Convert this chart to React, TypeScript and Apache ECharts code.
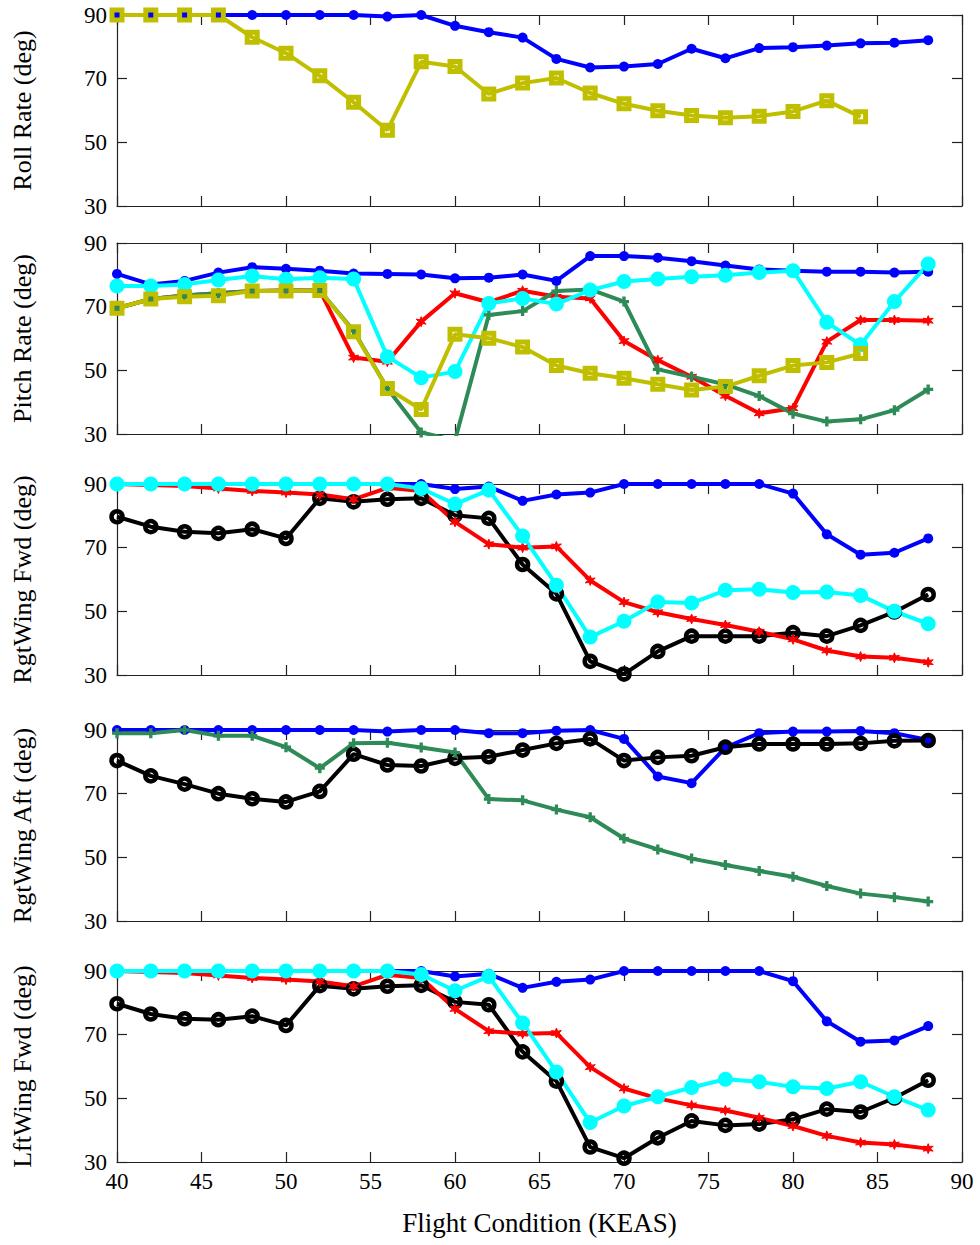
import React, { useEffect, useRef } from "react";
import * as echarts from "echarts";

const KEAS = [40, 42, 44, 46, 48, 50, 52, 54, 56, 58, 60, 62, 64, 66, 68, 70, 72, 74, 76, 78, 80, 82, 84, 86, 88];
const KEAS_TO84 = [40, 42, 44, 46, 48, 50, 52, 54, 56, 58, 60, 62, 64, 66, 68, 70, 72, 74, 76, 78, 80, 82, 84];

const Y_TICKS = [30, 50, 70, 90];

const rollBlue = [90, 90, 90, 90, 90, 90, 90, 90, 89.5, 90, 86.6, 84.6, 82.9, 76.2, 73.5, 73.8, 74.6, 79.4, 76.4, 79.6, 79.9, 80.4, 81.1, 81.3, 82.1];
const rollYellow = [90, 90, 90, 90, 83.0, 78.0, 70.9, 62.6, 53.8, 75.3, 73.8, 65.2, 68.6, 70.2, 65.5, 62.1, 59.9, 58.4, 57.7, 58.2, 59.7, 63.1, 58.0];

const pitchBlue = [80.3, 77.0, 78.1, 80.7, 82.4, 81.9, 81.3, 80.4, 80.3, 80.1, 78.9, 79.1, 80.1, 78.1, 85.9, 85.9, 85.4, 84.3, 82.9, 81.7, 81.3, 81.0, 81.0, 80.7, 81.0];
const pitchCyan = [76.5, 76.5, 77.0, 78.4, 79.6, 78.6, 79.1, 78.7, 54.3, 47.7, 49.6, 71.0, 72.6, 70.8, 75.2, 77.9, 78.7, 79.4, 79.9, 80.7, 81.3, 65.1, 58.0, 71.6, 83.4];
const pitchRed = [69.5, 72.4, 73.5, 74.2, 74.9, 75.1, 75.1, 54.0, 52.7, 65.3, 74.2, 71.4, 75.0, 73.1, 72.6, 59.2, 53.2, 48.0, 42.0, 36.5, 38.1, 59.0, 65.8, 65.8, 65.6];
const pitchGreen = [69.5, 72.4, 73.5, 74.2, 74.9, 75.1, 75.1, 62.4, 44.3, 30.5, 28.0, 67.4, 68.6, 74.9, 75.4, 71.6, 50.3, 48.0, 45.6, 41.9, 36.4, 33.9, 34.6, 37.5, 44.0];
const pitchYellow = [69.5, 72.4, 73.1, 73.4, 74.9, 74.9, 75.1, 62.1, 44.3, 37.7, 61.3, 60.1, 57.3, 51.5, 49.1, 47.5, 45.6, 43.8, 44.9, 48.3, 51.5, 52.5, 55.3];

const rwfBlue = [90, 90, 90, 90, 90, 90, 90, 90, 90, 90, 88.4, 89.2, 84.7, 86.7, 87.3, 90, 90, 90, 90, 90, 87.0, 74.2, 67.8, 68.4, 72.9];
const rwfCyan = [90, 90, 90, 90, 90, 90, 90, 90, 90, 88.6, 83.7, 88.1, 73.7, 58.2, 41.9, 46.9, 52.9, 52.6, 56.6, 56.9, 55.9, 56.1, 55.0, 50.0, 46.1];
const rwfRed = [90, 89.7, 89.4, 88.6, 87.8, 87.3, 86.7, 85.2, 88.8, 87.8, 78.1, 71.1, 70.0, 70.4, 59.7, 52.9, 49.7, 47.6, 45.7, 43.6, 41.2, 37.7, 35.8, 35.4, 34.0];
const rwfBlack = [79.7, 76.6, 75.0, 74.5, 75.8, 72.9, 85.5, 84.4, 85.2, 85.5, 80.2, 79.2, 64.7, 55.5, 34.3, 30.3, 37.4, 42.2, 42.2, 42.2, 43.3, 42.2, 45.6, 49.8, 55.3];

const rwaBlue = [90, 90, 90, 90, 90, 90, 90, 90, 89.5, 90, 90, 89, 89, 89.8, 90, 87.2, 75.4, 73.3, 84.5, 89, 89.5, 89.5, 89.7, 89, 86.9];
const rwaBlack = [80.4, 75.6, 73.0, 70.0, 68.4, 67.4, 70.7, 82.4, 79.0, 78.7, 81.1, 81.6, 83.7, 85.8, 87.2, 80.4, 81.4, 81.9, 84.6, 85.6, 85.6, 85.6, 85.8, 86.6, 86.7];
const rwaGreen = [89, 89, 90, 88.2, 88.2, 84.6, 78.0, 85.8, 86.0, 84.5, 82.9, 68.3, 67.9, 65.0, 62.6, 55.9, 52.5, 49.6, 47.6, 45.7, 43.9, 41.0, 38.6, 37.5, 36.1];

const lwfBlue = [90, 90, 90, 90, 90, 90, 90, 90, 90, 90, 88.3, 89.1, 84.7, 86.6, 87.3, 90, 90, 90, 90, 90, 86.8, 74.2, 67.8, 68.2, 72.7];
const lwfCyan = [90, 90, 90, 90, 90, 90, 90, 90, 90, 88.9, 83.8, 88.3, 73.7, 58.3, 42.4, 47.6, 50.5, 53.4, 56.0, 55.2, 53.6, 53.1, 55.2, 50.5, 46.3];
const lwfRed = [90, 89.7, 89.4, 88.6, 87.8, 87.3, 86.7, 85.2, 88.8, 87.8, 78.1, 71.1, 70.3, 70.5, 59.8, 53.1, 50.0, 47.8, 46.2, 43.9, 41.3, 38.2, 36.1, 35.5, 34.2];
const lwfBlack = [79.7, 76.5, 75.0, 74.7, 75.8, 72.9, 85.4, 84.4, 85.2, 85.5, 80.3, 79.4, 64.6, 55.4, 34.7, 31.2, 37.6, 42.9, 41.5, 41.9, 43.4, 46.6, 45.7, 50.1, 55.7];

const PANEL_NAMES = ["Roll Rate (deg)", "Pitch Rate (deg)", "RgtWing Fwd (deg)", "RgtWing Aft (deg)", "LftWing Fwd (deg)"];
const X_NAME = "Flight Condition (KEAS)";

const FONT = "'Liberation Serif', 'Times New Roman', serif";
const BLUE = "#0000FF";
const CYAN = "#00FFFF";
const RED = "#FF0000";
const GREEN = "#2E8B57";
const YELLOW = "#BFBF00";
const BLACK = "#000000";

const STAR = "path://M0,-10 L2.2,-3.8 L8.66,-5 L4.4,0 L8.66,5 L2.2,3.8 L0,10 L-2.2,3.8 L-8.66,5 L-4.4,0 L-8.66,-5 L-2.2,-3.8 Z";
const PLUS = "path://M-2,-6 L2,-6 L2,-2 L6,-2 L6,2 L2,2 L2,6 L-2,6 L-2,2 L-6,2 L-6,-2 L-2,-2 Z";

type Style = "blue" | "cyan" | "red" | "green" | "yellow" | "black";

function makeSeries(panel: number, xs: number[], ys: number[], style: Style) {
  const base: any = {
    type: "line",
    xAxisIndex: panel * 2,
    yAxisIndex: panel * 2,
    data: xs.map((x, i) => [x, ys[i]]),
    clip: true,
    silent: true,
    z: 2,
  };
  const lw = 4;
  switch (style) {
    case "blue":
      return { ...base, symbol: "circle", symbolSize: 10, lineStyle: { color: BLUE, width: lw }, itemStyle: { color: BLUE } };
    case "cyan":
      return { ...base, symbol: "circle", symbolSize: 15, lineStyle: { color: CYAN, width: lw }, itemStyle: { color: CYAN } };
    case "red":
      return { ...base, symbol: STAR, symbolSize: 10, lineStyle: { color: RED, width: lw }, itemStyle: { color: RED, borderColor: RED, borderWidth: 1 } };
    case "green":
      return { ...base, symbol: PLUS, symbolSize: 10, lineStyle: { color: GREEN, width: lw }, itemStyle: { color: GREEN } };
    case "yellow":
      return { ...base, symbol: "rect", symbolSize: 10, lineStyle: { color: YELLOW, width: lw }, itemStyle: { color: "rgba(0,0,0,0)", borderColor: YELLOW, borderWidth: 5 } };
    case "black":
      return { ...base, symbol: "circle", symbolSize: 11, lineStyle: { color: BLACK, width: lw }, itemStyle: { color: "rgba(0,0,0,0)", borderColor: BLACK, borderWidth: 4.5 } };
  }
}

export default function App() {
  const ref = useRef<HTMLDivElement>(null);

  useEffect(() => {
    document.body.style.margin = "0";
    if (!ref.current) return;
    const chart = echarts.init(ref.current, undefined, { renderer: "svg" });

    const tops = [15, 243, 484, 730, 971];
    const height = 191;
    const grids = tops.map((t) => ({ left: 117, right: 18, top: t, height }));

    const axisLine = { show: true, lineStyle: { color: "#222", width: 1.2 } };
    const tick = { show: true, inside: true, length: 10, lineStyle: { color: "#222", width: 1.2 } };

    const xAxes: any[] = [];
    const yAxes: any[] = [];
    tops.forEach((_, i) => {
      const last = i === tops.length - 1;
      xAxes.push({
        type: "value", gridIndex: i, position: "bottom", min: 40, max: 90, interval: 5,
        axisLine, axisTick: tick, splitLine: { show: false },
        axisLabel: { show: last, color: "#000", fontFamily: FONT, fontSize: 23, margin: 8 },
        name: last ? X_NAME : "", nameLocation: "middle", nameGap: 47,
        nameTextStyle: { color: "#000", fontFamily: FONT, fontSize: 27 },
      });
      xAxes.push({
        type: "value", gridIndex: i, position: "top", min: 40, max: 90, interval: 5,
        axisLine, axisTick: tick, splitLine: { show: false }, axisLabel: { show: false },
      });
      yAxes.push({
        type: "value", gridIndex: i, position: "left", min: 30, max: 90,
        axisLine, axisTick: { ...tick, customValues: Y_TICKS }, splitLine: { show: false },
        axisLabel: { color: "#000", fontFamily: FONT, fontSize: 23, margin: 10, customValues: Y_TICKS },
        name: PANEL_NAMES[i], nameLocation: "middle", nameGap: 82, nameRotate: 90,
        nameTextStyle: { color: "#000", fontFamily: FONT, fontSize: 26 },
      });
      yAxes.push({
        type: "value", gridIndex: i, position: "right", min: 30, max: 90,
        axisLine, axisTick: { ...tick, customValues: Y_TICKS }, splitLine: { show: false },
        axisLabel: { show: false, customValues: Y_TICKS },
      });
    });

    const series: any[] = [
      makeSeries(0, KEAS, rollBlue, "blue"),
      makeSeries(0, KEAS_TO84, rollYellow, "yellow"),

      makeSeries(1, KEAS, pitchBlue, "blue"),
      makeSeries(1, KEAS, pitchRed, "red"),
      makeSeries(1, KEAS, pitchGreen, "green"),
      makeSeries(1, KEAS, pitchCyan, "cyan"),
      makeSeries(1, KEAS_TO84, pitchYellow, "yellow"),

      makeSeries(2, KEAS, rwfBlack, "black"),
      makeSeries(2, KEAS, rwfBlue, "blue"),
      makeSeries(2, KEAS, rwfRed, "red"),
      makeSeries(2, KEAS, rwfCyan, "cyan"),

      makeSeries(3, KEAS, rwaBlue, "blue"),
      makeSeries(3, KEAS, rwaBlack, "black"),
      makeSeries(3, KEAS, rwaGreen, "green"),

      makeSeries(4, KEAS, lwfBlack, "black"),
      makeSeries(4, KEAS, lwfBlue, "blue"),
      makeSeries(4, KEAS, lwfRed, "red"),
      makeSeries(4, KEAS, lwfCyan, "cyan"),
    ];

    chart.setOption({
      animation: false,
      backgroundColor: "#ffffff",
      grid: grids,
      xAxis: xAxes,
      yAxis: yAxes,
      series,
    });

    return () => chart.dispose();
  }, []);

  return <div ref={ref} style={{ width: 980, height: 1245 }} />;
}
